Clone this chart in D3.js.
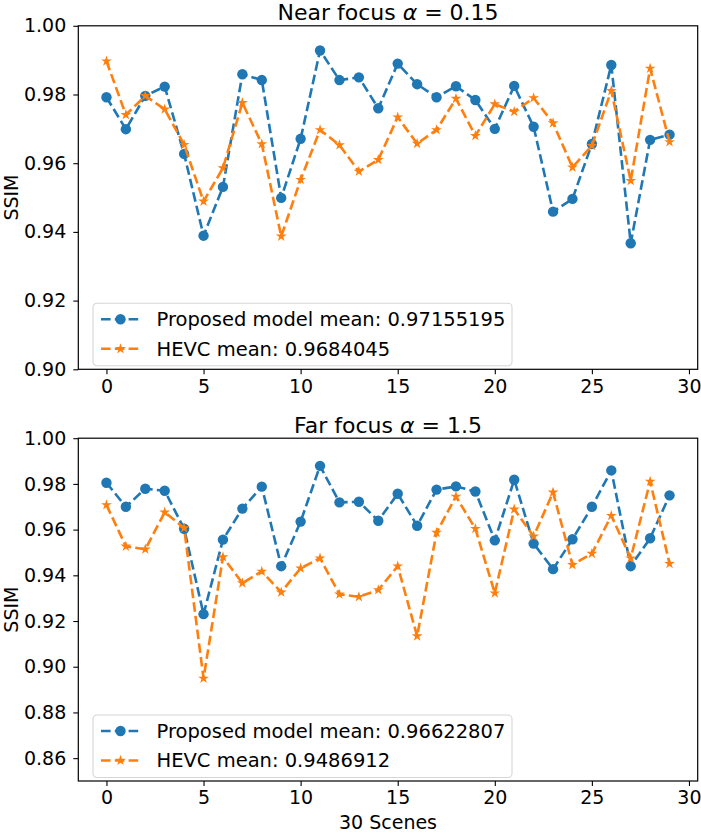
<!DOCTYPE html>
<html>
<head>
<meta charset="utf-8">
<script src="https://cdn.jsdelivr.net/npm/d3@7"></script>
<style>
  html, body { margin: 0; padding: 0; background: #fff; }
  svg { display: block; font-family: "DejaVu Sans", sans-serif; }
</style>
</head>
<body>
<svg id="chart" width="701" height="834"></svg>
<script>
// scene index 0..29
const scenes = d3.range(30);
const xTicks = [0, 5, 10, 15, 20, 25, 30];

// Near focus (alpha = 0.15)
const nearProposed = [0.9792, 0.9699, 0.9796, 0.9823, 0.9627, 0.9389, 0.9531, 0.9859, 0.9842, 0.9499,
  0.9671, 0.9928, 0.9842, 0.9850, 0.9760, 0.9890, 0.9830, 0.9792, 0.9824, 0.9784,
  0.9700, 0.9825, 0.9706, 0.9459, 0.9496, 0.9656, 0.9886, 0.9367, 0.9668, 0.9683];
const nearHevc = [0.9897, 0.9741, 0.9796, 0.9757, 0.9654, 0.9489, 0.9586, 0.9776, 0.9656, 0.9387,
  0.9552, 0.9697, 0.9653, 0.9576, 0.9610, 0.9734, 0.9657, 0.9697, 0.9788, 0.9680,
  0.9772, 0.9750, 0.9790, 0.9717, 0.9588, 0.9651, 0.9811, 0.9549, 0.9876, 0.9662];
const nearTicks = [0.90, 0.92, 0.94, 0.96, 0.98, 1.00];
const nearLabels = ["Proposed model mean: 0.97155195", "HEVC mean: 0.9684045"];

// Far focus (alpha = 1.5)
const farProposed = [0.9805, 0.9700, 0.9779, 0.9770, 0.9604, 0.9230, 0.9556, 0.9692, 0.9788, 0.9440,
  0.9635, 0.9879, 0.9719, 0.9722, 0.9639, 0.9757, 0.9617, 0.9775, 0.9789, 0.9767,
  0.9553, 0.9818, 0.9539, 0.9427, 0.9558, 0.9700, 0.9859, 0.9440, 0.9562, 0.9750];
const farHevc = [0.9708, 0.9527, 0.9514, 0.9676, 0.9607, 0.8949, 0.9480, 0.9366, 0.9417, 0.9326,
  0.9431, 0.9475, 0.9317, 0.9306, 0.9336, 0.9440, 0.9134, 0.9587, 0.9745, 0.9604,
  0.9322, 0.9689, 0.9571, 0.9763, 0.9446, 0.9495, 0.9661, 0.9475, 0.9811, 0.9451];
const farTicks = [0.86, 0.88, 0.90, 0.92, 0.94, 0.96, 0.98, 1.00];
const farLabels = ["Proposed model mean: 0.96622807", "HEVC mean: 0.9486912"];

const BLUE = "#1f77b4", ORANGE = "#ff7f0e";
const FS = 19;

const svg = d3.select("#chart");
const x = d3.scaleLinear().domain([-1.45, 30.45]).range([78.3, 697.7]);

const panels = [
  { title: "Near focus ", value: " = 0.15", domain: [0.90, 1.00], top: 25.8, bottom: 369.3,
    ticks: nearTicks, series: [nearProposed, nearHevc], labels: nearLabels, xlabel: false },
  { title: "Far focus ", value: " = 1.5", domain: [0.85, 1.00], top: 438.2, bottom: 781,
    ticks: farTicks, series: [farProposed, farHevc], labels: farLabels, xlabel: true }
];

function marker(sel, kind, color) {
  if (kind === "circle") {
    sel.append("circle").attr("r", 5.2).attr("fill", color);
  } else {
    sel.append("path")
      .attr("d", d3.symbol().type(d3.symbolStar).size(36)())
      .attr("fill", color);
  }
}

panels.forEach((p) => {
  const y = d3.scaleLinear().domain(p.domain).range([p.bottom, p.top]);
  const g = svg.append("g");

  // axes
  g.append("g")
    .attr("transform", `translate(0,${p.bottom})`)
    .call(d3.axisBottom(x).tickValues(xTicks).tickSize(5).tickPadding(5).tickFormat(d3.format("d")))
    .call((a) => a.select(".domain").remove())
    .call((a) => a.selectAll("text").attr("font-size", FS).attr("font-family", "DejaVu Sans").attr("fill", "#000"))
    .call((a) => a.selectAll("line").attr("stroke", "#000").attr("stroke-width", 1.1));

  g.append("g")
    .attr("transform", `translate(${x.range()[0]},0)`)
    .call(d3.axisLeft(y).tickValues(p.ticks).tickSize(5).tickPadding(7).tickFormat(d3.format(".2f")))
    .call((a) => a.select(".domain").remove())
    .call((a) => a.selectAll("text").attr("font-size", FS).attr("font-family", "DejaVu Sans").attr("fill", "#000"))
    .call((a) => a.selectAll("line").attr("stroke", "#000").attr("stroke-width", 1.1));

  // series: blue circles, then orange stars
  const kinds = ["circle", "star"];
  const colors = [BLUE, ORANGE];
  const line = d3.line().x((d, i) => x(scenes[i])).y((d) => y(d));
  p.series.forEach((vals, si) => {
    g.append("path")
      .datum(vals)
      .attr("d", line)
      .attr("fill", "none")
      .attr("stroke", colors[si])
      .attr("stroke-width", 2.6)
      .attr("stroke-dasharray", "9.6,4.2");
    g.append("g").selectAll("g").data(vals).join("g")
      .attr("transform", (d, i) => `translate(${x(scenes[i])},${y(d)})`)
      .each(function () { marker(d3.select(this), kinds[si], colors[si]); });
  });

  // frame
  g.append("rect")
    .attr("x", x.range()[0]).attr("y", p.top)
    .attr("width", x.range()[1] - x.range()[0]).attr("height", p.bottom - p.top)
    .attr("fill", "none").attr("stroke", "#000").attr("stroke-width", 1.2);

  // title
  const t = g.append("text")
    .attr("x", (x.range()[0] + x.range()[1]) / 2)
    .attr("y", p.top - 5.5)
    .attr("text-anchor", "middle")
    .attr("font-size", 22);
  t.append("tspan").text(p.title);
  t.append("tspan").attr("font-style", "italic").text("α");
  t.append("tspan").text(p.value);

  // y label
  g.append("text")
    .attr("transform", `translate(18,${(p.top + p.bottom) / 2}) rotate(-90)`)
    .attr("text-anchor", "middle")
    .attr("font-size", FS)
    .text("SSIM");

  if (p.xlabel) {
    g.append("text")
      .attr("x", (x.range()[0] + x.range()[1]) / 2)
      .attr("y", 829)
      .attr("text-anchor", "middle")
      .attr("font-size", FS)
      .text("30 Scenes");
  }

  // legend, lower left
  const lg = g.append("g").attr("transform", `translate(93,${p.bottom - 66})`);
  lg.append("rect")
    .attr("width", 419).attr("height", 62.5).attr("rx", 4)
    .attr("fill", "#fff").attr("fill-opacity", 0.8)
    .attr("stroke", "#d6d6d6").attr("stroke-width", 1.1);
  p.labels.forEach((lab, i) => {
    const row = lg.append("g").attr("transform", `translate(0,${16 + i * 29.5})`);
    row.append("line")
      .attr("x1", 8).attr("x2", 47).attr("y1", 0).attr("y2", 0)
      .attr("stroke", colors[i]).attr("stroke-width", 2.6)
      .attr("stroke-dasharray", "9.6,4.2");
    const m = row.append("g").attr("transform", "translate(27.5,0)");
    marker(m, kinds[i], colors[i]);
    row.append("text")
      .attr("x", 63.5).attr("y", 0)
      .attr("dy", "0.35em")
      .attr("font-size", 19.5)
      .text(lab);
  });
});
</script>
</body>
</html>
